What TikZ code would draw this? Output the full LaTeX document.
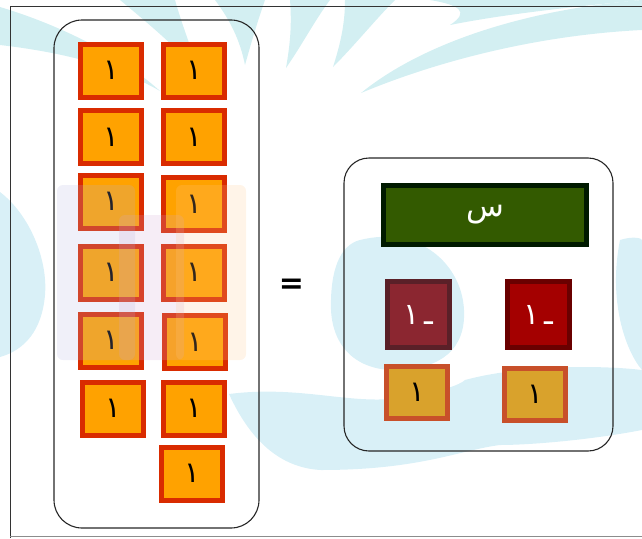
\documentclass[tikz,border=0pt]{standalone}
\usepackage{fontspec}
\newfontfamily\arabicfont[Script=Arabic]{DejaVu Sans}
\newfontfamily\eqfont{DejaVu Sans}
\TeXXeTstate=1
\definecolor{wm}{HTML}{D3EFF2}
\definecolor{wmb}{HTML}{D9F0F7}
\definecolor{tilefill}{HTML}{FFA200}
\definecolor{tileline}{HTML}{D92B00}
\definecolor{xfill}{HTML}{335A00}
\definecolor{xline}{HTML}{001A00}
\definecolor{mafill}{HTML}{8B2630}
\definecolor{maline}{HTML}{5A2028}
\definecolor{rdfill}{HTML}{A40000}
\definecolor{rdline}{HTML}{6A0000}
\definecolor{yfill}{HTML}{D9A22C}
\definecolor{yline}{HTML}{C8502A}
\tikzset{
  tile/.style={draw=tileline, fill=tilefill, line width=5pt, minimum width=61pt, minimum height=53pt, inner sep=0pt,
    font=\arabicfont\fontsize{29}{30}\selectfont, text=black},
  ytile/.style={tile, draw=yline, fill=yfill},
  negtile/.style={draw=#1, line width=5pt, minimum width=62pt, minimum height=66pt, inner sep=0pt,
    font=\arabicfont\fontsize{30}{32}\selectfont, text=white},
  group/.style={draw=black!85, line width=1.1pt, rounded corners=28pt},
  figure/.style={rounded corners=6pt, fill opacity=0.2},
}
\begin{document}
\begin{tikzpicture}[x=1pt,y=-1pt]
\useasboundingbox (0,0) rectangle (642,538);
% watermark
\begin{scope}
\fill[wm] (0,7) .. controls (60,25) and (120,55) .. (160,91) .. controls (115,65) and (60,52) .. (0,45) -- cycle;
\fill[wm] (120,0) .. controls (150,25) and (180,50) .. (200,75) .. controls (192,50) and (182,25) .. (175,0) -- cycle;
\fill[wm] (215,0) .. controls (230,20) and (240,40) .. (245,65) .. controls (252,40) and (258,20) .. (265,0) -- cycle;
\fill[wm] (290,0) .. controls (292,25) and (290,45) .. (286,68) .. controls (302,45) and (315,20) .. (330,0) -- cycle;
\fill[wm] (345,0) .. controls (345,25) and (340,45) .. (333,67) .. controls (355,45) and (375,20) .. (395,0) -- cycle;
\fill[wm] (361,93) .. controls (420,45) and (520,10) .. (642,0) -- (642,30) .. controls (540,35) and (440,60) .. (361,93) -- cycle;
\fill[wm] (430,0) -- (642,0) .. controls (560,8) and (500,15) .. (450,25) .. controls (470,12) and (460,5) .. (430,0) -- cycle;
\fill[wmb] (0,192) .. controls (30,215) and (48,260) .. (45,295) .. controls (42,330) and (25,350) .. (0,357) -- cycle;
\fill[wmb] (360,240) .. controls (420,225) and (462,265) .. (464,310) .. controls (466,350) and (440,368) .. (400,370) .. controls (360,372) and (333,350) .. (331,310) .. controls (330,270) and (340,245) .. (360,240) -- cycle;
\fill[wmb] (229,394) .. controls (300,385) and (350,405) .. (400,398) .. controls (440,392) and (460,385) .. (465,380) .. controls (520,365) and (600,365) .. (642,370) -- (642,430) .. controls (590,440) and (530,445) .. (500,445) .. controls (460,450) and (420,470) .. (321,470) .. controls (280,468) and (250,440) .. (229,394) -- cycle;
\fill[wmb] (620,240) .. controls (632,236) and (642,238) .. (642,240) -- (642,370) .. controls (625,350) and (608,300) .. (620,240) -- cycle;
\end{scope}
% frame
\draw[black!80, line width=1pt] (10,538) -- (10,6) -- (642,6);
\draw[black!45, line width=1pt] (10,536.5) -- (642,536.5);
% left group
\node[group, minimum width=205pt, minimum height=508pt] (L) at (156.5,274) {};
\node[tile] (a1) at (111,70.5) {١};
\node[tile] (b1) at (194,70.5) {١};
\node[tile] (a2) at (111,137) {١};
\node[tile] (b2) at (194,137) {١};
\node[tile] (a3) at (111,201.5) {١};
\node[tile] (b3) at (194,204) {١};
\node[tile] (a4) at (111,272.5) {١};
\node[tile] (b4) at (194,272.5) {١};
\node[tile] (a5) at (111,340.5) {١};
\node[tile] (b5) at (195,342) {١};
\node[tile] (a6) at (113,408.5) {١};
\node[tile] (b6) at (194,408.5) {١};
\node[tile] (b7) at (192,473.5) {١};
% faint figures of the watermark
\fill[figure, fill=black!40!blue!30] (57,185) rectangle (135,360);
\fill[figure, fill=violet!35] (119,215) rectangle (184,360);
\fill[figure, fill=orange!45] (176,185) rectangle (246,360);
% equals
\node[font=\eqfont\bfseries\fontsize{30}{30}\selectfont, inner sep=0pt] (eq) at (291.5,286) {=};
% right group
\node[group, rounded corners=25pt, minimum width=269pt, minimum height=293pt] (R) at (478.5,304.5) {};
\node[draw=xline, fill=xfill, line width=5pt, minimum width=203pt, minimum height=59pt, inner sep=0pt,
  font=\arabicfont\fontsize{31}{33}\selectfont, text=white] (x) at (485,215) {\beginR س\endR};
\node[negtile=maline, fill=mafill] (n1) at (418.5,314.5) {\beginR ـ\,١\endR};
\node[negtile=rdline, fill=rdfill] (n2) at (538,314.5) {\beginR ـ\,١\endR};
\node[ytile, minimum width=61pt, minimum height=52pt] (y1) at (417,392.5) {١};
\node[ytile, minimum width=61pt, minimum height=52pt] (y2) at (535,394) {١};
\end{tikzpicture}
\end{document}
